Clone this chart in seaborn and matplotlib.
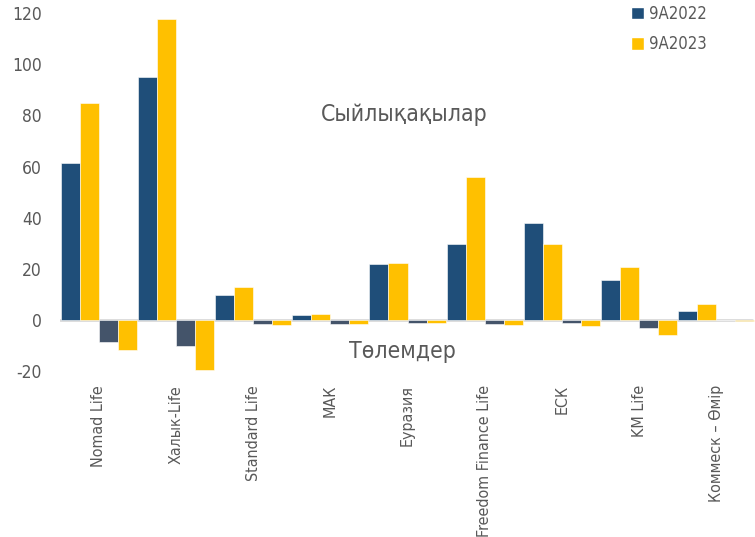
import matplotlib
matplotlib.use("Agg")
import matplotlib.pyplot as plt
import seaborn as sns
import pandas as pd
from matplotlib.patches import Patch

categories = ["Nomad Life", "Халык-Life", "Standard Life", "МАК", "Еуразия",
              "Freedom Finance Life", "ЕСК", "KM Life", "Коммеск – Өмір"]
prem_2022 = [61.4, 94.9, 9.8, 2.0, 21.8, 29.6, 37.8, 15.5, 3.5]
prem_2023 = [84.8, 117.5, 12.8, 2.3, 22.3, 55.8, 29.7, 20.7, 6.3]
pay_2022 = [-8.6, -10.0, -1.5, -1.5, -1.2, -1.4, -1.3, -3.0, 0.0]
pay_2023 = [-11.7, -19.5, -2.0, -1.5, -1.2, -2.0, -2.3, -5.9, -0.2]
series_names = ["Сыйлықақылар 9A2022", "Сыйлықақылар 9A2023",
                "Төлемдер 9A2022", "Төлемдер 9A2023"]
legend_labels = ["9A2022", "9A2023"]
y_ticks = [-20, 0, 20, 40, 60, 80, 100, 120]

rows = []
for name, vals in zip(series_names, [prem_2022, prem_2023, pay_2022, pay_2023]):
    for c, v in zip(categories, vals):
        rows.append({"company": c, "series": name, "value": v})
df = pd.DataFrame(rows)

sns.set_theme(style="white")
plt.rcParams["font.family"] = ["DejaVu Sans"]
plt.rcParams["font.stretch"] = "condensed"

colors = {series_names[0]: "#1F4E79", series_names[1]: "#FFC000",
          series_names[2]: "#44546A", series_names[3]: "#FFC000"}
text_color = "#595959"

fig = plt.figure(figsize=(7.55, 5.37), dpi=100)
ax = fig.add_axes([60 / 755, 1 - 371.2 / 537, 695 / 755, (371.2 - 13) / 537])

sns.barplot(data=df, x="company", y="value", hue="series", hue_order=series_names,
            order=categories, palette=colors, width=0.985, gap=0, ax=ax,
            saturation=1, edgecolor="white", linewidth=0.4, legend=False,
            errorbar=None)

ax.axhline(0, color="#D9D9D9", lw=2, zorder=0.5, xmin=0.0, xmax=0.996)
ax.set_ylim(-20, 120)
ax.set_xlim(-0.5, len(categories) - 0.5)
ax.set_yticks(y_ticks)
ax.set_yticklabels([str(t) for t in y_ticks])
ax.set_xlabel("")
ax.set_ylabel("")
for s in ax.spines.values():
    s.set_visible(False)
ax.tick_params(axis="y", length=0, pad=13, labelsize=12.5, labelcolor=text_color)
ax.tick_params(axis="x", length=0, pad=10, labelsize=11.5, labelcolor=text_color)
for lab in ax.get_xticklabels():
    lab.set_rotation(90)
    lab.set_va("top")
    lab.set_ha("center")

ax.text(0.495, 0.718, "Сыйлықақылар", transform=ax.transAxes, ha="center", va="center",
        fontsize=16.5, color=text_color)
ax.text(0.492, 0.056, "Төлемдер", transform=ax.transAxes, ha="center", va="center",
        fontsize=16.5, color=text_color)

handles = [Patch(facecolor="#1F4E79"), Patch(facecolor="#FFC000")]
ax.legend(handles, legend_labels, loc="upper left", bbox_to_anchor=(0.8, 1.065),
          frameon=False, fontsize=12, handlelength=0.75, handleheight=0.75,
          handletextpad=0.35, labelspacing=0.75, labelcolor=text_color)

fig.savefig("out.png", dpi=100)
